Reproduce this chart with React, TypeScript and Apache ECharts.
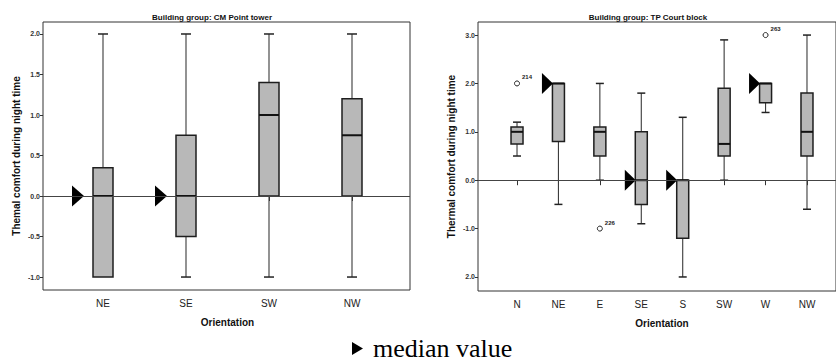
import React, { useEffect, useRef } from 'react';
import * as echarts from 'echarts';

// ---- Left panel: CM Point tower ----
const leftTitle = 'Building group: CM Point tower';
const leftCategories = ['NE', 'SE', 'SW', 'NW'];
const leftMin = [-1.0, -1.0, -1.0, -1.0];
const leftQ1 = [-1.0, -0.5, 0.0, 0.0];
const leftMedian = [0.0, 0.0, 1.0, 0.75];
const leftQ3 = [0.35, 0.75, 1.4, 1.2];
const leftMax = [2.0, 2.0, 2.0, 2.0];
const leftMarkedMedians = ['NE', 'SE'];
const leftTickValues = [-1.0, -0.5, 0.0, 0.5, 1.0, 1.5, 2.0];
const leftTickLabels = ['-1.0', '-0.5', '0.0', '0.5', '1.0', '1.5', '2.0'];
const leftYName = 'Themal comfort during night time';

// ---- Right panel: TP Court block ----
const rightTitle = 'Building group: TP Court block';
const rightCategories = ['N', 'NE', 'E', 'SE', 'S', 'SW', 'W', 'NW'];
const rightMin = [0.5, -0.5, 0.0, -0.9, -2.0, 0.0, 1.4, -0.6];
const rightQ1 = [0.75, 0.8, 0.5, -0.5, -1.2, 0.5, 1.6, 0.5];
const rightMedian = [1.0, 2.0, 1.0, 0.0, 0.0, 0.75, 2.0, 1.0];
const rightQ3 = [1.1, 2.0, 1.1, 1.0, 0.0, 1.9, 2.0, 1.8];
const rightMax = [1.2, 2.0, 2.0, 1.8, 1.3, 2.9, 2.0, 3.0];
const rightMarkedMedians = ['NE', 'SE', 'S', 'W'];
const rightOutlierCats = ['N', 'E', 'W'];
const rightOutlierValues = [2.0, -1.0, 3.0];
const rightOutlierIds = ['214', '226', '263'];
const rightTickValues = [-2.0, -1.0, 0.0, 1.0, 2.0, 3.0];
const rightTickLabels = ['2.0', '-1.0', '0.0', '1.0', '2.0', '3.0'];
const rightYName = 'Thermal comfort during night time';

const xName = 'Orientation';
const legendText = 'median value';

const SANS = 'Liberation Sans, Arial, Helvetica, sans-serif';
const SERIF = 'Liberation Serif, Times New Roman, serif';

function boxRows(mn: number[], q1: number[], md: number[], q3: number[], mx: number[]) {
  return mn.map((v, i) => [i, v, q1[i], md[i], q3[i], mx[i]]);
}

function makeRenderItem(boxW: number, capW: number) {
  return (params: any, api: any) => {
    const x = api.value(0);
    const pMin = api.coord([x, api.value(1)]);
    const yQ1 = api.coord([x, api.value(2)])[1];
    const yMed = api.coord([x, api.value(3)])[1];
    const yQ3 = api.coord([x, api.value(4)])[1];
    const yMax = api.coord([x, api.value(5)])[1];
    const cx = pMin[0];
    const yMin = pMin[1];
    const ws = { stroke: '#3a3a3a', lineWidth: 1.1 };
    const children: any[] = [];
    if (yMax < yQ3 - 0.5) {
      children.push({ type: 'line', shape: { x1: cx, y1: yMax, x2: cx, y2: yQ3 }, style: ws });
      children.push({ type: 'line', shape: { x1: cx - capW / 2, y1: yMax, x2: cx + capW / 2, y2: yMax }, style: { stroke: '#222', lineWidth: 1.5 } });
    }
    if (yMin > yQ1 + 0.5) {
      children.push({ type: 'line', shape: { x1: cx, y1: yQ1, x2: cx, y2: yMin }, style: ws });
      children.push({ type: 'line', shape: { x1: cx - capW / 2, y1: yMin, x2: cx + capW / 2, y2: yMin }, style: { stroke: '#222', lineWidth: 1.5 } });
    }
    children.push({
      type: 'rect',
      shape: { x: cx - boxW / 2, y: yQ3, width: boxW, height: yQ1 - yQ3 },
      style: { fill: '#b8b8b8', stroke: '#1e1e1e', lineWidth: 1.5 },
    });
    children.push({
      type: 'line',
      shape: { x1: cx - boxW / 2, y1: yMed, x2: cx + boxW / 2, y2: yMed },
      style: { stroke: '#111', lineWidth: 2 },
    });
    return { type: 'group', children };
  };
}

function valueLabel(values: number[], labels: string[]) {
  return (v: number) => {
    const i = values.findIndex((t) => Math.abs(t - v) < 1e-6);
    return i >= 0 ? labels[i] : '';
  };
}

export default function App() {
  const ref = useRef<HTMLDivElement>(null);
  useEffect(() => {
    if (!ref.current) return;
    const chart = echarts.init(ref.current, null, { renderer: 'svg' });

    const frameY = (min: number, max: number, vals: number[], labs: string[], name: string, grid: number) => ({
      type: 'value',
      gridIndex: grid,
      min,
      max,
      name,
      nameLocation: 'middle',
      nameGap: 22,
      nameTextStyle: { fontSize: 10, fontWeight: 'bold', color: '#111', fontFamily: SANS },
      axisLine: { show: false },
      axisTick: { show: true, length: 3, customValues: vals, lineStyle: { color: '#333' } },
      axisLabel: {
        show: true,
        customValues: vals,
        formatter: valueLabel(vals, labs),
        fontSize: 7,
        fontWeight: 'bold',
        color: '#333',
        margin: 3,
        fontFamily: SANS,
      },
      splitLine: { show: false },
    });
    const hiddenY = (min: number, max: number, grid: number) => ({
      type: 'value',
      gridIndex: grid,
      min,
      max,
      show: false,
      splitLine: { show: false },
    });
    const catX = (cats: string[], grid: number) => ({
      type: 'category',
      gridIndex: grid,
      data: cats,
      boundaryGap: true,
      name: xName,
      nameLocation: 'middle',
      nameGap: 27,
      nameTextStyle: { fontSize: 10, fontWeight: 'bold', color: '#111', fontFamily: SANS },
      axisLine: { show: false },
      axisTick: { show: true, alignWithLabel: true, length: 5, lineStyle: { color: '#333' } },
      axisLabel: { fontSize: 10, color: '#222', margin: 8, fontFamily: SANS },
      splitLine: { show: false },
    });
    const frameX = (grid: number) => ({ type: 'value', gridIndex: grid, min: 0, max: 1, show: false, splitLine: { show: false } });

    const medianMarks = (cats: string[], marked: string[], med: number[]) =>
      marked.map((c) => {
        const i = cats.indexOf(c);
        return [i, med[i]];
      });

    const LMIN = -1.16, LMAX = 2.148;
    const RMIN = -2.29, RMAX = 3.27;

    chart.setOption({
      animation: false,
      backgroundColor: '#fff',
      title: [
        { text: leftTitle, left: 207, top: 8, textAlign: 'center', textStyle: { fontSize: 8, fontWeight: 'bold', color: '#111', fontFamily: SANS } },
        { text: rightTitle, left: 643, top: 8, textAlign: 'center', textStyle: { fontSize: 8, fontWeight: 'bold', color: '#111', fontFamily: SANS } },
      ],
      grid: [
        { left: 43, top: 22, width: 367, height: 268, show: true, borderColor: '#333', borderWidth: 1, backgroundColor: 'transparent' },
        { left: 61.5, top: 22, width: 332, height: 268 },
        { left: 478, top: 22, width: 362, height: 269, show: true, borderColor: '#333', borderWidth: 1, backgroundColor: 'transparent' },
        { left: 496.3, top: 22, width: 331.4, height: 269 },
      ],
      xAxis: [frameX(0), catX(leftCategories, 1), frameX(2), catX(rightCategories, 3)],
      yAxis: [
        frameY(LMIN, LMAX, leftTickValues, leftTickLabels, leftYName, 0),
        hiddenY(LMIN, LMAX, 1),
        frameY(RMIN, RMAX, rightTickValues, rightTickLabels, rightYName, 2),
        hiddenY(RMIN, RMAX, 3),
      ],
      series: [
        {
          type: 'line', xAxisIndex: 0, yAxisIndex: 0, data: [], z: 1,
          markLine: { silent: true, symbol: 'none', label: { show: false }, lineStyle: { color: '#444', type: 'solid', width: 1 }, data: [{ yAxis: 0 }] },
        },
        {
          type: 'line', xAxisIndex: 2, yAxisIndex: 2, data: [], z: 1,
          markLine: { silent: true, symbol: 'none', label: { show: false }, lineStyle: { color: '#444', type: 'solid', width: 1 }, data: [{ yAxis: 0 }] },
        },
        {
          type: 'custom', xAxisIndex: 1, yAxisIndex: 1, z: 3,
          renderItem: makeRenderItem(20, 10),
          encode: { x: 0, y: [1, 2, 3, 4, 5] },
          data: boxRows(leftMin, leftQ1, leftMedian, leftQ3, leftMax),
        },
        {
          type: 'custom', xAxisIndex: 3, yAxisIndex: 3, z: 3,
          renderItem: makeRenderItem(12, 8),
          encode: { x: 0, y: [1, 2, 3, 4, 5] },
          data: boxRows(rightMin, rightQ1, rightMedian, rightQ3, rightMax),
        },
        {
          type: 'scatter', xAxisIndex: 1, yAxisIndex: 1, z: 4,
          symbol: 'triangle', symbolSize: [21, 12], symbolRotate: -90, symbolOffset: [-25, 0],
          itemStyle: { color: '#000', opacity: 1 },
          data: medianMarks(leftCategories, leftMarkedMedians, leftMedian),
        },
        {
          type: 'scatter', xAxisIndex: 3, yAxisIndex: 3, z: 4,
          symbol: 'triangle', symbolSize: [21, 11], symbolRotate: -90, symbolOffset: [-11, 0],
          itemStyle: { color: '#000', opacity: 1 },
          data: medianMarks(rightCategories, rightMarkedMedians, rightMedian),
        },
        {
          type: 'scatter', xAxisIndex: 3, yAxisIndex: 3, z: 4,
          symbol: 'circle', symbolSize: 5,
          itemStyle: { color: '#fff', borderColor: '#222', borderWidth: 1, opacity: 1 },
          label: {
            show: true, position: 'right', distance: 2, offset: [0, -6],
            formatter: (p: any) => p.value[2], fontSize: 6, fontWeight: 'bold', color: '#222', fontFamily: SANS,
          },
          data: rightOutlierCats.map((c, k) => [rightCategories.indexOf(c), rightOutlierValues[k], rightOutlierIds[k]]),
        },
      ],
      graphic: [
        { type: 'polygon', shape: { points: [[352, 342], [363, 348.5], [352, 355]] }, style: { fill: '#000' } },
        {
          type: 'text', x: 373, y: 348,
          style: { text: legendText, fontSize: 26, fontFamily: SERIF, fill: '#000', verticalAlign: 'middle' },
        },
      ],
    });
    return () => chart.dispose();
  }, []);
  return <div ref={ref} style={{ position: 'fixed', left: 0, top: 0, width: 836, height: 362 }} />;
}
